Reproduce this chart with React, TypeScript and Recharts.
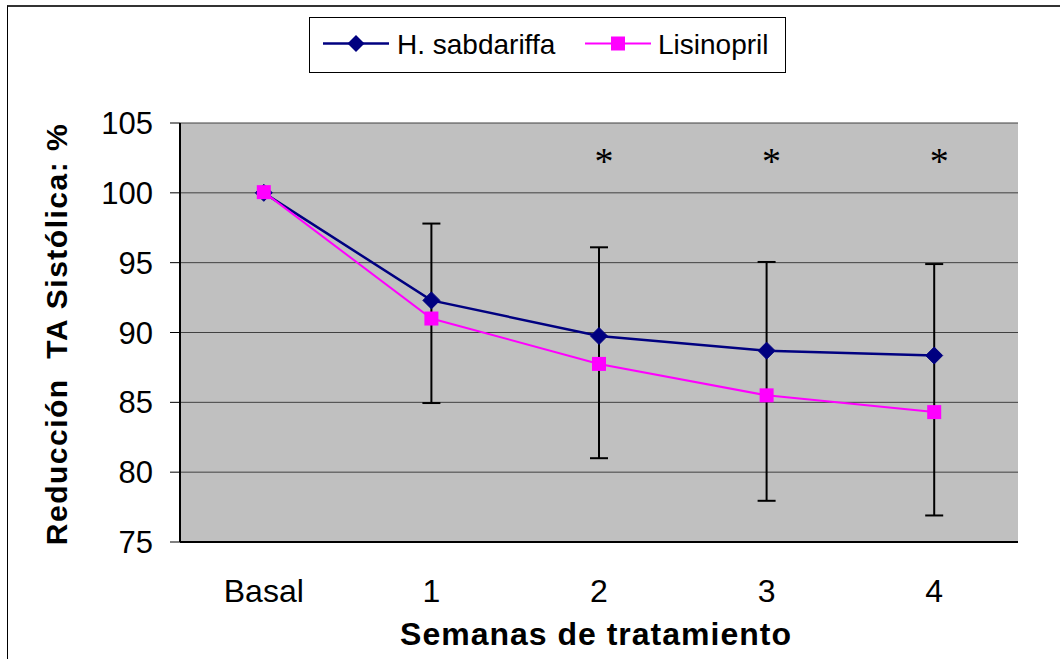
import React from 'react';
import { LineChart, Line, XAxis, YAxis, CartesianGrid, ErrorBar, Legend, LabelList } from 'recharts';

const categories = ['Basal', '1', '2', '3', '4'];
const hSabdariffa = [100, 92.3, 89.75, 88.7, 88.35];
const lisinopril = [100.05, 91.0, 87.75, 85.5, 84.3];
const errorLow: (number | null)[] = [null, 84.95, 81.0, 77.95, 76.9];
const errorHigh: (number | null)[] = [null, 97.8, 96.1, 95.05, 94.9];
const significance: (string | null)[] = [null, null, '*', '*', '*'];
const sigLevel = 102.6;
const yTicks = [75, 80, 85, 90, 95, 100, 105];

const data = categories.map((c, i) => ({
  name: c,
  h: hSabdariffa[i],
  l: lisinopril[i],
  errBase: errorLow[i],
  errSpan:
    errorLow[i] == null || errorHigh[i] == null
      ? null
      : [0, (errorHigh[i] as number) - (errorLow[i] as number)],
  sig: significance[i] ? sigLevel : null,
  sigText: significance[i],
}));

const NAVY = '#000080';
const MAGENTA = '#FF00FF';
const FONT = '"Liberation Sans", Arial, sans-serif';
const XPAD = { left: 83.8, right: 83.8 };

const Diamond = (props: any) => {
  const { cx, cy, key } = props;
  if (cx == null || cy == null) return <g key={key} />;
  const r = 8.5;
  return (
    <polygon
      key={key}
      points={`${cx},${cy - r} ${cx + r},${cy} ${cx},${cy + r} ${cx - r},${cy}`}
      fill={NAVY}
      stroke={NAVY}
    />
  );
};

const Square = (props: any) => {
  const { cx, cy, key } = props;
  if (cx == null || cy == null) return <g key={key} />;
  const s = 7;
  return <rect key={key} x={cx - s} y={cy - s} width={2 * s} height={2 * s} fill={MAGENTA} />;
};

const renderLegend = () => (
  <svg width={477} height={56} style={{ display: 'block' }}>
    <rect x={0.5} y={0.5} width={476} height={55} fill="#fff" stroke="#000" strokeWidth={1} />
    <line x1={14} x2={80} y1={26.5} y2={26.5} stroke={NAVY} strokeWidth={2.5} />
    <polygon points="47,18 55.5,26.5 47,35 38.5,26.5" fill={NAVY} />
    <text x={88} y={36.5} fontFamily={FONT} fontSize={28} fill="#000">
      H. sabdariffa
    </text>
    <line x1={276} x2={342} y1={26.5} y2={26.5} stroke={MAGENTA} strokeWidth={2} />
    <rect x={302} y={19.5} width={14} height={14} fill={MAGENTA} />
    <text x={349} y={36.5} fontFamily={FONT} fontSize={28} fill="#000">
      Lisinopril
    </text>
  </svg>
);

const XTick = (props: any) => {
  const { x, y, payload } = props;
  return (
    <text x={x} y={y + 60} textAnchor="middle" fontFamily={FONT} fontSize={32} fill="#000">
      {payload.value}
    </text>
  );
};

const renderXLabel = (props: any) => {
  const vb = props.viewBox || {};
  return (
    <text
      x={vb.x + vb.width / 2 - 3}
      y={vb.y + 103}
      textAnchor="middle"
      fontFamily={FONT}
      fontWeight="bold"
      fontSize={32}
      letterSpacing={1}
      fill="#000"
    >
      Semanas de tratamiento
    </text>
  );
};

const renderYLabel = (props: any) => {
  const vb = props.viewBox || {};
  const cy = vb.y + vb.height / 2 + 1.5;
  const bx = 67;
  return (
    <text
      x={bx}
      y={cy}
      transform={`rotate(-90, ${bx}, ${cy})`}
      textAnchor="middle"
      fontFamily={FONT}
      fontWeight="bold"
      fontSize={30}
      letterSpacing={1.5}
      fill="#000"
      style={{ whiteSpace: 'pre' }}
    >
      {'Reducción  TA Sistólica: %'}
    </text>
  );
};

const renderStar = (props: any) => {
  const { x, y, value } = props;
  if (value == null || x == null || y == null) return null;
  return (
    <text
      x={x + 5}
      y={y + 17.5}
      textAnchor="middle"
      fontFamily='"Liberation Serif", "Times New Roman", serif'
      fontSize={38}
      fill="#000"
    >
      {value}
    </text>
  );
};

export default function App() {
  return (
    <div
      style={{
        position: 'fixed',
        left: 0,
        top: 0,
        width: 1060,
        height: 659,
        overflow: 'hidden',
        background: '#fff',
      }}
    >
      <div
        style={{
          position: 'absolute',
          left: 7,
          top: 5,
          width: 1100,
          height: 700,
          borderLeft: '1px solid #000',
          borderTop: '2px solid #333',
        }}
      />
      <div style={{ position: 'absolute', left: 0, top: 0 }}>
        <LineChart
          width={1060}
          height={659}
          data={data}
          margin={{ top: 67, right: 42, bottom: 0, left: 0 }}
        >
          <CartesianGrid
            vertical={false}
            horizontal={true}
            fill="#C0C0C0"
            fillOpacity={1}
            stroke="#404040"
            strokeWidth={1}
          />
          <Legend
            verticalAlign="top"
            align="left"
            content={renderLegend}
            wrapperStyle={{ position: 'absolute', top: 17, left: 309, width: 477, height: 56 }}
          />
          <XAxis
            dataKey="name"
            height={117}
            padding={XPAD}
            axisLine={{ stroke: '#000', strokeWidth: 2 }}
            tickLine={false}
            tickSize={0}
            tickMargin={0}
            tick={<XTick />}
            interval={0}
            label={renderXLabel}
          />
          <XAxis
            xAxisId="top"
            dataKey="name"
            orientation="top"
            height={0}
            padding={XPAD}
            axisLine={{ stroke: '#000', strokeWidth: 2 }}
            tick={false}
            tickLine={false}
          />
          <YAxis
            width={180}
            domain={[75, 105]}
            ticks={yTicks}
            type="number"
            allowDataOverflow
            axisLine={{ stroke: '#000', strokeWidth: 2 }}
            tickLine={{ stroke: '#000', strokeWidth: 1 }}
            tickSize={10}
            tickMargin={17}
            tick={{ fontFamily: FONT, fontSize: 31, fill: '#000' }}
            label={renderYLabel}
          />
          <YAxis
            yAxisId="right"
            orientation="right"
            width={0}
            domain={[75, 105]}
            type="number"
            axisLine={{ stroke: '#000', strokeWidth: 2 }}
            tick={false}
            tickLine={false}
          />
          <Line
            dataKey="errBase"
            stroke="none"
            dot={false}
            activeDot={false}
            legendType="none"
            isAnimationActive={false}
            connectNulls={false}
          >
            <ErrorBar dataKey="errSpan" width={9} stroke="#000" strokeWidth={2} direction="y" />
          </Line>
          <Line
            dataKey="sig"
            stroke="none"
            dot={false}
            activeDot={false}
            legendType="none"
            isAnimationActive={false}
          >
            <LabelList dataKey="sigText" content={renderStar} />
          </Line>
          <Line
            dataKey="h"
            name="H. sabdariffa"
            stroke={NAVY}
            strokeWidth={2.5}
            dot={Diamond}
            activeDot={false}
            isAnimationActive={false}
          />
          <Line
            dataKey="l"
            name="Lisinopril"
            stroke={MAGENTA}
            strokeWidth={2}
            dot={Square}
            activeDot={false}
            isAnimationActive={false}
          />
        </LineChart>
      </div>
    </div>
  );
}
